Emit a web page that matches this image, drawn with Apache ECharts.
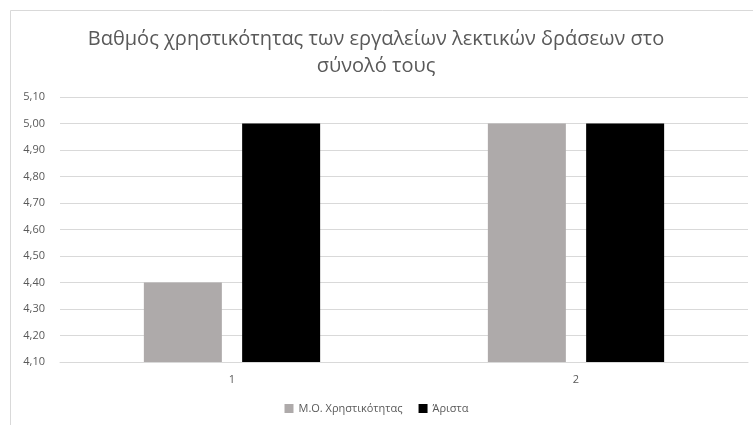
<!DOCTYPE html>
<html>
<head>
<meta charset="utf-8">
<script src="https://cdn.jsdelivr.net/npm/echarts@6/dist/echarts.min.js"></script>
<style>
  html, body { margin: 0; padding: 0; background: #fff; }
  #main { width: 753px; height: 425px; }
</style>
</head>
<body>
<div id="main"></div>
<script>
// data
const categories = ['1', '2'];
const seriesNames = ['Μ.Ο. Χρηστικότητας', 'Άριστα'];
const avgValues = [4.40, 5.00];
const bestValues = [5.00, 5.00];

const chart = echarts.init(document.getElementById('main'));
const font = '"Open Sans", "Noto Sans", sans-serif';

chart.setOption({
  backgroundColor: '#fff',
  textStyle: { fontFamily: font },
  animation: false,
  graphic: [{
    type: 'rect',
    shape: { x: 10.5, y: 10.5, width: 760, height: 440 },
    style: { fill: 'none', stroke: '#d9d9d9', lineWidth: 1 },
    silent: true
  }],
  title: {
    text: 'Βαθμός χρηστικότητας των εργαλείων λεκτικών δράσεων στο\nσύνολό τους',
    left: 371,
    top: 21,
    textAlign: 'center',
    textStyle: { fontFamily: font, fontSize: 20, fontWeight: 'normal', color: '#595959', lineHeight: 27 }
  },
  legend: {
    bottom: 6,
    left: 'center',
    itemWidth: 9,
    itemHeight: 9,
    itemGap: 16,
    icon: 'rect',
    textStyle: { fontFamily: font, fontSize: 11, color: '#595959' },
    data: seriesNames
  },
  grid: { left: 60, right: 5, top: 97, bottom: 63 },
  xAxis: {
    type: 'category',
    data: categories,
    axisLine: { lineStyle: { color: '#d9d9d9' } },
    axisTick: { show: false },
    axisLabel: { color: '#595959', fontSize: 11, margin: 12 }
  },
  yAxis: {
    type: 'value',
    min: 4.1,
    max: 5.1,
    interval: 0.1,
    axisLine: { show: false },
    axisTick: { show: false },
    splitLine: { lineStyle: { color: '#d9d9d9' } },
    axisLabel: {
      color: '#595959',
      fontSize: 11,
      margin: 15,
      formatter: v => v.toFixed(2).replace('.', ',')
    }
  },
  series: [
    {
      name: seriesNames[0],
      type: 'bar',
      data: avgValues,
      barWidth: 78,
      barGap: '26%',
      itemStyle: { color: '#aeaaaa' }
    },
    {
      name: seriesNames[1],
      type: 'bar',
      data: bestValues,
      barWidth: 78,
      itemStyle: { color: '#000000' }
    }
  ]
});
</script>
</body>
</html>
